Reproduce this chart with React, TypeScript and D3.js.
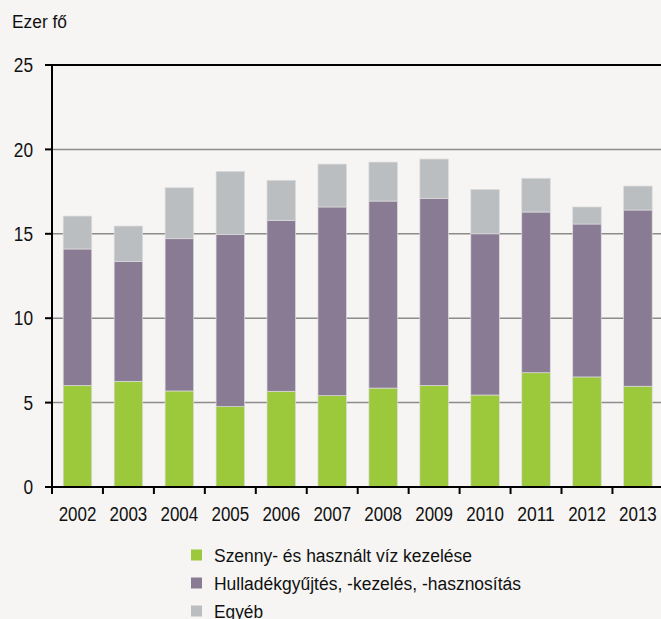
import React from "react";
import * as d3 from "d3";

const years = ["2002","2003","2004","2005","2006","2007","2008","2009","2010","2011","2012","2013"];
const wastewater = [6.02,6.26,5.69,4.76,5.67,5.41,5.86,6.02,5.45,6.77,6.52,5.97];
const waste = [8.08,7.09,9.02,10.21,10.13,11.18,11.08,11.08,9.55,9.52,9.06,10.44];
const other = [1.95,2.11,3.02,3.73,2.37,2.54,2.31,2.33,2.63,2.0,1.01,1.42];
const seriesNames = ["Szenny- és használt víz kezelése","Hulladékgyűjtés, -kezelés, -hasznosítás","Egyéb"];
const seriesKeys = ["wastewater","waste","other"];
const yTicks = [0,5,10,15,20,25];
const unitLabel = "Ezer fő";

const colors = ["#9cc83b","#8a7b94","#bbbec1"];
const legendWidths = [258,307,49];

export default function App() {
  const W = 661, H = 619;
  const x0 = 52, yTop = 65, yBot = 487;
  const bandW = 50.95;
  const x = d3.scaleBand<string>().domain(years).range([x0, x0 + bandW * years.length]).paddingInner(0.44).paddingOuter(0.22);
  const y = d3.scaleLinear().domain([0, 25]).range([yBot, yTop]);
  const rows = years.map((yr, i) => ({ year: yr, wastewater: wastewater[i], waste: waste[i], other: other[i] }));
  const stack = d3.stack<any>().keys(seriesKeys)(rows);
  const font = "'Liberation Sans', Arial, sans-serif";
  return (
    <svg width={W} height={H} style={{ position: "absolute", left: 0, top: 0, background: "#f6f5f3" }} fontFamily={font}>
      <rect x={0} y={0} width={W} height={H} fill="#f6f5f3" />
      <text x={12} y={28} fontSize={18} textLength={55} lengthAdjust="spacingAndGlyphs" fill="#111">{unitLabel}</text>
      {yTicks.filter(t => t > 0 && t < 25).map(t => (
        <line key={"g" + t} x1={x0} x2={W} y1={y(t)} y2={y(t)} stroke="#8c8c8c" strokeWidth={1.5} />
      ))}
      {stack.map((s, si) => s.map((d, i) => (
        <rect key={si + "-" + i} x={x(years[i])!} width={x.bandwidth()} y={y(d[1])} height={y(d[0]) - y(d[1])}
          fill={colors[si]} stroke="#dcdcdc" strokeWidth={0.7} />
      )))}
      <line x1={x0} x2={W} y1={yTop} y2={yTop} stroke="#000" strokeWidth={2} />
      <line x1={x0} x2={W} y1={yBot} y2={yBot} stroke="#000" strokeWidth={2.2} />
      <line x1={x0} x2={x0} y1={yTop - 1} y2={yBot + 1} stroke="#000" strokeWidth={2} />
      {yTicks.map(t => (
        <g key={"yt" + t}>
          <line x1={x0 - 7} x2={x0} y1={y(t)} y2={y(t)} stroke="#000" strokeWidth={2} />
          <text x={33} y={y(t)} dy="0.36em" textAnchor="end" fontSize={20}
            textLength={String(t).length * 9.6} lengthAdjust="spacingAndGlyphs" fill="#111">{t}</text>
        </g>
      ))}
      {years.map((yr, i) => {
        const left = x0 + bandW * i;
        return (
          <g key={"xt" + yr}>
            <line x1={left} x2={left} y1={yBot} y2={yBot + 7} stroke="#000" strokeWidth={2} />
            <text x={x(yr)! + x.bandwidth() / 2} y={521} textAnchor="middle" fontSize={20}
              textLength={37.7} lengthAdjust="spacingAndGlyphs" fill="#111">{yr}</text>
          </g>
        );
      })}
      {seriesNames.map((n, i) => (
        <g key={"lg" + i}>
          <rect x={191} y={549.5 + i * 28} width={11} height={11} fill={colors[i]} />
          <text x={214} y={562 + i * 28} fontSize={18} textLength={legendWidths[i]} lengthAdjust="spacingAndGlyphs" fill="#111">{n}</text>
        </g>
      ))}
    </svg>
  );
}
